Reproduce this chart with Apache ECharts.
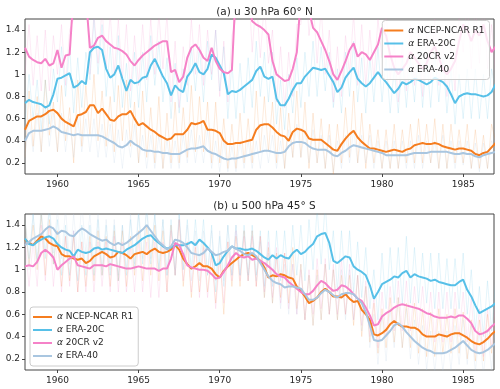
<!DOCTYPE html>
<html>
<head>
<meta charset="utf-8">
<script src="https://cdn.jsdelivr.net/npm/echarts@6.0.0/dist/echarts.min.js"></script>
<style>
  html, body { margin: 0; padding: 0; background: #fff; }
  #chart { width: 500px; height: 389px; }
</style>
</head>
<body>
<div id="chart"></div>
<script>
// quarterly samples, 1958.0 .. 1987.0 (4 per year)
const startYear = 1958;
const yearTicks = [1960, 1965, 1970, 1975, 1980, 1985];
const valueTicks = [0.2, 0.4, 0.6, 0.8, 1, 1.2, 1.4];
const names = ['NCEP-NCAR R1', 'ERA-20C', '20CR v2', 'ERA-40'];
const colors = ['#f57d1f', '#57c0e8', '#f582c8', '#a9c6e0'];

// (a) u 30 hPa 60N -- smoothed
const ncepA = [
  0.50,0.58,0.60,0.62, 0.62,0.64,0.67,0.68, 0.65,0.60,0.57,0.55, 0.53,0.63,0.64,0.66,
  0.72,0.72,0.65,0.69, 0.64,0.59,0.58,0.62, 0.64,0.64,0.67,0.60, 0.54,0.56,0.53,0.50,
  0.48,0.45,0.43,0.41, 0.42,0.46,0.46,0.46, 0.50,0.56,0.55,0.56, 0.58,0.50,0.50,0.49,
  0.47,0.40,0.37,0.37, 0.38,0.38,0.39,0.40, 0.41,0.50,0.54,0.55, 0.55,0.52,0.48,0.45,
  0.44,0.40,0.48,0.51, 0.50,0.48,0.42,0.41, 0.41,0.41,0.38,0.35, 0.32,0.31,0.37,0.42,
  0.46,0.49,0.43,0.39, 0.36,0.33,0.33,0.32, 0.31,0.30,0.31,0.32, 0.31,0.30,0.32,0.33,
  0.36,0.37,0.38,0.37, 0.37,0.38,0.37,0.35, 0.34,0.33,0.32,0.33, 0.33,0.32,0.31,0.28,
  0.27,0.29,0.30,0.34, 0.38];
const era20cA = [
  0.74,0.77,0.75,0.74, 0.73,0.70,0.72,0.82, 0.96,0.97,0.99,1.01, 0.88,0.90,0.94,0.91,
  1.20,1.24,1.25,1.22, 1.05,0.97,1.00,1.08, 0.96,0.85,0.95,0.92, 0.93,0.97,0.98,1.08,
  1.14,1.06,0.98,0.92, 0.81,0.90,0.86,0.84, 0.98,1.03,1.10,1.02, 1.00,1.05,1.18,1.15,
  1.08,1.01,0.82,0.85, 0.84,0.86,0.89,0.92, 0.95,1.03,1.07,0.98, 0.96,0.98,0.78,0.72,
  0.72,0.78,0.86,0.92, 0.92,0.98,1.02,1.06, 1.05,1.04,1.05,0.99, 0.93,0.84,0.88,0.97,
  1.02,1.06,0.96,0.92, 0.89,0.92,0.97,1.02, 0.97,0.93,0.88,0.83, 0.87,0.93,0.91,0.93,
  0.96,0.95,0.93,0.91, 0.93,0.97,0.95,0.93, 0.89,0.82,0.74,0.80, 0.82,0.83,0.82,0.82,
  0.81,0.80,0.81,0.84, 0.91];
const cr20A = [
  1.24,1.16,1.13,1.11, 1.10,1.14,1.08,1.10, 1.22,1.06,1.17,1.18, 1.75,1.90,1.80,1.70,
  1.24,1.26,1.33,1.35, 1.30,1.27,1.24,1.23, 1.21,1.18,1.12,1.08, 1.13,1.17,1.20,1.23,
  1.26,1.28,1.30,1.30, 1.02,1.04,0.93,0.98, 1.15,1.24,1.27,1.22, 1.15,1.12,1.24,1.12,
  1.05,1.02,1.01,1.04, 1.80,1.90,1.85,1.70, 1.48,1.45,1.43,1.40, 1.36,1.12,1.00,0.97,
  0.94,0.95,1.05,1.20, 1.70,1.80,1.58,1.42, 1.38,1.30,1.22,1.12, 1.00,0.95,1.03,1.12,
  1.22,1.28,1.16,1.20, 1.18,1.13,1.20,1.27, 1.42,1.35,1.18,1.06, 1.00,1.05,1.10,1.20,
  1.15,1.10,1.05,1.10, 1.20,1.25,1.15,1.05, 1.00,1.05,1.12,1.30, 1.45,1.40,1.30,1.40,
  1.35,1.45,1.30,1.20, 1.25];
const era40A = [
  0.40,0.47,0.49,0.49, 0.49,0.50,0.51,0.53, 0.51,0.48,0.47,0.46, 0.45,0.46,0.45,0.45,
  0.45,0.45,0.45,0.44, 0.42,0.40,0.38,0.35, 0.34,0.36,0.40,0.37, 0.35,0.32,0.31,0.31,
  0.30,0.30,0.29,0.29, 0.28,0.28,0.28,0.30, 0.32,0.33,0.33,0.34, 0.35,0.31,0.29,0.28,
  0.26,0.24,0.23,0.24, 0.24,0.25,0.26,0.27, 0.28,0.29,0.30,0.31, 0.31,0.30,0.29,0.29,
  0.30,0.35,0.38,0.39, 0.39,0.38,0.35,0.33, 0.32,0.32,0.32,0.30, 0.27,0.26,0.29,0.31,
  0.34,0.36,0.35,0.34, 0.33,0.32,0.31,0.30, 0.29,0.27,0.27,0.27, 0.27,0.27,0.27,0.28,
  0.29,0.29,0.29,0.29, 0.30,0.30,0.30,0.30, 0.30,0.29,0.28,0.28, 0.29,0.28,0.28,0.26,
  0.25,0.27,0.28,0.29, 0.30];

// (a) raw values
const ncepARaw = [
  0.25,0.85,0.35,0.80, 0.30,0.95,0.45,0.75, 0.30,0.90,0.40,0.70, 0.20,0.95,0.35,0.90,
  0.45,1.00,0.40,0.85, 0.35,0.80,0.30,0.90, 0.40,0.95,0.35,0.75, 0.20,0.85,0.25,0.70,
  0.20,0.80,0.15,0.65, 0.20,0.75,0.20,0.70, 0.25,0.90,0.30,0.80, 0.30,0.75,0.20,0.75,
  0.20,0.60,0.15,0.55, 0.15,0.65,0.20,0.60, 0.20,0.85,0.30,0.80, 0.30,0.75,0.20,0.70,
  0.15,0.65,0.25,0.85, 0.25,0.75,0.15,0.65, 0.20,0.60,0.15,0.55, 0.10,0.55,0.20,0.70,
  0.25,0.85,0.20,0.65, 0.15,0.55,0.20,0.50, 0.15,0.50,0.15,0.55, 0.15,0.50,0.20,0.55,
  0.20,0.60,0.20,0.55, 0.20,0.60,0.15,0.55, 0.15,0.55,0.20,0.50, 0.20,0.55,0.15,0.50,
  0.15,0.45,0.15,0.55, 0.40];
const era20cARaw = [
  0.55,1.00,0.60,0.95, 0.50,0.95,0.55,1.05, 0.75,1.25,0.80,1.25, 0.65,1.15,0.70,1.20,
  0.95,1.50,1.00,1.45, 0.80,1.25,0.75,1.35, 0.70,1.10,0.70,1.20, 0.70,1.20,0.75,1.35,
  0.90,1.30,0.75,1.15, 0.60,1.10,0.65,1.05, 0.75,1.25,0.85,1.25, 0.75,1.30,0.95,1.40,
  0.85,1.25,0.60,1.10, 0.60,1.10,0.65,1.15, 0.70,1.30,0.80,1.20, 0.75,1.20,0.55,0.95,
  0.50,1.00,0.65,1.15, 0.70,1.20,0.80,1.30, 0.80,1.25,0.85,1.20, 0.70,1.05,0.65,1.20,
  0.80,1.30,0.75,1.15, 0.65,1.15,0.75,1.25, 0.75,1.15,0.65,1.05, 0.65,1.15,0.70,1.15,
  0.75,1.20,0.70,1.15, 0.70,1.20,0.75,1.15, 0.65,1.05,0.55,1.00, 0.60,1.05,0.60,1.05,
  0.60,1.00,0.60,1.05, 0.85];
const cr20ARaw = [
  1.00,1.45,0.90,1.35, 0.85,1.40,0.85,1.35, 1.00,1.45,0.90,1.40, 1.50,2.00,1.60,1.90,
  1.00,1.55,1.10,1.60, 1.05,1.55,1.00,1.50, 0.95,1.45,0.85,1.35, 0.90,1.45,0.95,1.50,
  1.00,1.55,1.05,1.55, 0.75,1.30,0.70,1.25, 0.90,1.50,1.00,1.45, 0.90,1.40,1.00,1.40,
  0.80,1.30,0.75,1.35, 1.50,2.00,1.55,1.90, 1.20,1.70,1.15,1.65, 1.10,1.40,0.75,1.25,
  0.70,1.20,0.80,1.45, 1.45,2.00,1.35,1.70, 1.10,1.60,1.00,1.40, 0.75,1.25,0.80,1.35,
  1.00,1.55,0.90,1.45, 0.90,1.40,0.95,1.50, 1.15,1.60,0.95,1.30, 0.75,1.30,0.85,1.45,
  0.90,1.40,0.80,1.35, 0.95,1.50,0.90,1.30, 0.80,1.30,0.85,1.55, 1.20,1.70,1.05,1.65,
  1.10,1.70,1.05,1.45, 1.00];
const era40ARaw = [
  0.25,0.60,0.30,0.65, 0.30,0.70,0.35,0.65, 0.30,0.65,0.30,0.60, 0.25,0.60,0.30,0.60,
  0.30,0.60,0.25,0.55, 0.25,0.55,0.20,0.50, 0.15,0.50,0.25,0.55, 0.20,0.45,0.15,0.45,
  0.15,0.45,0.15,0.40, 0.15,0.40,0.15,0.45, 0.20,0.50,0.20,0.45, 0.20,0.50,0.15,0.40,
  0.12,0.40,0.12,0.35, 0.12,0.40,0.15,0.40, 0.15,0.40,0.15,0.45, 0.20,0.45,0.15,0.40,
  0.15,0.50,0.25,0.55, 0.25,0.50,0.20,0.50, 0.20,0.45,0.15,0.45, 0.12,0.40,0.15,0.45,
  0.20,0.50,0.20,0.45, 0.20,0.45,0.15,0.40, 0.15,0.40,0.15,0.40, 0.15,0.40,0.15,0.40,
  0.15,0.45,0.15,0.40, 0.20,0.40,0.15,0.45, 0.15,0.40,0.15,0.40, 0.18,0.40,0.15,0.38,
  0.12,0.38,0.15,0.40, 0.30];

// (b) u 500 hPa 45S -- smoothed
const ncepB = [
  1.27,1.24,1.22,1.26, 1.30,1.28,1.24,1.22, 1.21,1.14,1.12,1.12, 1.10,1.09,1.10,1.06,
  1.08,1.12,1.14,1.16, 1.14,1.11,1.12,1.16, 1.15,1.13,1.10,1.14, 1.15,1.16,1.14,1.17,
  1.19,1.16,1.15,1.16, 1.18,1.22,1.18,1.10, 1.05,1.01,1.03,1.06, 1.03,1.03,1.01,0.96,
  0.93,0.99,1.03,1.06, 1.09,1.12,1.14,1.15, 1.13,1.11,1.08,1.02, 0.93,0.95,0.94,0.96,
  0.95,0.93,0.92,0.85, 0.81,0.76,0.70,0.72, 0.75,0.80,0.83,0.80, 0.76,0.76,0.75,0.78,
  0.74,0.71,0.72,0.64, 0.60,0.55,0.42,0.41, 0.43,0.46,0.51,0.54, 0.51,0.49,0.49,0.48,
  0.48,0.46,0.42,0.40, 0.40,0.40,0.42,0.41, 0.40,0.42,0.43,0.43, 0.41,0.39,0.36,0.34,
  0.33,0.35,0.38,0.42, 0.45];
const era20cB = [
  1.28,1.23,1.22,1.25, 1.27,1.29,1.30,1.28, 1.23,1.20,1.18,1.17, 1.12,1.18,1.16,1.15,
  1.16,1.19,1.20,1.18, 1.19,1.18,1.17,1.16, 1.15,1.18,1.20,1.22, 1.25,1.28,1.30,1.31,
  1.27,1.24,1.21,1.19, 1.20,1.22,1.22,1.22, 1.23,1.25,1.22,1.27, 1.24,1.20,1.15,1.04,
  1.06,1.12,1.17,1.21, 1.19,1.19,1.18,1.18, 1.19,1.17,1.14,1.11, 1.09,1.13,1.10,1.13,
  1.11,1.10,1.15,1.18, 1.14,1.16,1.20,1.23, 1.30,1.32,1.33,1.24, 1.08,1.06,1.09,1.12,
  1.11,1.03,1.00,0.98, 0.95,0.86,0.74,0.80, 0.87,0.89,0.91,0.94, 0.93,0.97,0.99,0.93,
  0.96,0.94,0.93,0.92, 0.90,0.91,0.89,0.88, 0.87,0.86,0.86,0.89, 0.91,0.82,0.76,0.68,
  0.61,0.63,0.65,0.67, 0.70];
const cr20B = [
  1.03,1.04,1.03,1.07, 1.15,1.18,1.15,1.11, 1.00,1.04,1.07,1.10, 1.12,1.04,1.03,1.02,
  1.01,1.04,1.04,1.04, 1.03,1.05,1.04,1.03, 1.02,1.01,1.01,1.02, 1.03,1.02,1.01,1.01,
  1.01,0.99,1.01,1.01, 1.10,1.24,1.22,1.14, 1.04,1.02,1.01,1.00, 1.00,0.99,0.96,0.92,
  0.93,0.98,1.04,1.11, 1.15,1.12,1.11,1.12, 1.09,1.10,1.08,1.06, 1.03,1.00,0.96,0.94,
  0.93,0.89,0.86,0.83, 0.80,0.78,0.78,0.81, 0.86,0.90,0.88,0.84, 0.81,0.82,0.86,0.85,
  0.82,0.78,0.74,0.72, 0.66,0.59,0.50,0.51, 0.58,0.61,0.63,0.66, 0.68,0.69,0.68,0.67,
  0.66,0.65,0.63,0.61, 0.60,0.58,0.57,0.57, 0.57,0.58,0.57,0.59, 0.59,0.56,0.52,0.45,
  0.42,0.43,0.45,0.49, 0.52];
const era40B = [
  1.22,1.25,1.28,1.30, 1.32,1.36,1.39,1.37, 1.32,1.35,1.34,1.31, 1.30,1.34,1.37,1.35,
  1.32,1.30,1.28,1.26, 1.27,1.24,1.22,1.24, 1.22,1.24,1.27,1.30, 1.33,1.36,1.40,1.35,
  1.30,1.25,1.22,1.18, 1.21,1.27,1.26,1.24, 1.20,1.15,1.14,1.13, 1.15,1.19,1.16,1.13,
  1.14,1.16,1.17,1.21, 1.19,1.17,1.14,1.13, 1.15,1.12,1.06,1.00, 0.94,0.90,0.88,0.87,
  0.84,0.85,0.85,0.84, 0.83,0.78,0.73,0.73, 0.75,0.79,0.82,0.80, 0.77,0.75,0.78,0.79,
  0.79,0.78,0.74,0.70, 0.62,0.50,0.37,0.36, 0.37,0.41,0.45,0.50, 0.52,0.49,0.44,0.40,
  0.36,0.33,0.30,0.28, 0.27,0.25,0.25,0.25, 0.26,0.28,0.30,0.33, 0.36,0.32,0.28,0.26,
  0.25,0.26,0.28,0.31, 0.34];

// (b) raw values
const ncepBRaw = [
  1.45,1.05,1.40,1.00, 1.50,0.95,1.45,1.05, 1.35,0.85,1.30,0.90, 1.30,0.80,1.25,0.85,
  1.30,0.90,1.35,0.95, 1.30,0.85,1.35,0.90, 1.35,0.85,1.30,0.95, 1.35,0.90,1.40,0.95,
  1.40,0.90,1.35,0.80, 1.40,0.95,1.45,0.85, 1.25,0.75,1.20,0.80, 1.25,0.80,1.15,0.70,
  1.15,0.60,1.25,0.85, 1.30,0.85,1.35,0.90, 1.35,0.85,1.30,0.75, 1.20,0.70,1.15,0.75,
  1.15,0.70,1.20,0.65, 1.05,0.55,0.95,0.50, 1.00,0.55,1.05,0.60, 1.00,0.55,0.95,0.60,
  0.95,0.50,0.95,0.40, 0.85,0.35,0.70,0.25, 0.65,0.30,0.75,0.35, 0.75,0.30,0.70,0.30,
  0.70,0.25,0.65,0.22, 0.62,0.22,0.65,0.25, 0.60,0.25,0.65,0.25, 0.62,0.20,0.55,0.18,
  0.55,0.18,0.60,0.25, 0.60];
const era20cBRaw = [
  1.45,1.10,1.50,1.05, 1.50,1.10,1.55,1.05, 1.45,0.95,1.40,0.95, 1.35,0.90,1.40,0.95,
  1.40,0.95,1.45,0.95, 1.40,0.95,1.40,0.90, 1.40,0.95,1.45,1.00, 1.50,1.05,1.55,1.05,
  1.50,1.00,1.45,0.95, 1.45,0.95,1.50,1.00, 1.45,1.00,1.45,1.05, 1.45,0.95,1.40,0.80,
  1.30,0.85,1.40,0.95, 1.40,0.95,1.40,0.95, 1.40,0.95,1.35,0.85, 1.35,0.85,1.35,0.90,
  1.35,0.85,1.40,0.95, 1.40,0.90,1.45,1.00, 1.55,1.05,1.60,1.00, 1.35,0.80,1.35,0.85,
  1.35,0.80,1.25,0.75, 1.20,0.65,1.00,0.55, 1.15,0.65,1.20,0.70, 1.20,0.70,1.30,0.70,
  1.20,0.70,1.15,0.70, 1.15,0.65,1.15,0.65, 1.10,0.65,1.10,0.65, 1.15,0.60,1.00,0.45,
  0.85,0.40,0.90,0.45, 0.90];
const cr20BRaw = [
  1.25,0.85,1.25,0.85, 1.40,0.90,1.40,0.85, 1.25,0.80,1.30,0.85, 1.35,0.80,1.25,0.80,
  1.25,0.80,1.25,0.85, 1.25,0.80,1.30,0.80, 1.25,0.80,1.20,0.80, 1.25,0.80,1.25,0.75,
  1.25,0.75,1.25,0.80, 1.35,0.95,1.45,0.90, 1.25,0.80,1.25,0.75, 1.20,0.75,1.15,0.65,
  1.10,0.70,1.25,0.90, 1.35,0.90,1.30,0.90, 1.30,0.85,1.30,0.80, 1.25,0.75,1.20,0.70,
  1.15,0.65,1.05,0.60, 1.00,0.55,1.00,0.60, 1.10,0.65,1.10,0.60, 1.05,0.60,1.10,0.60,
  1.05,0.55,0.95,0.50, 0.90,0.40,0.75,0.30, 0.80,0.40,0.85,0.45, 0.90,0.45,0.90,0.45,
  0.85,0.45,0.85,0.40, 0.80,0.35,0.80,0.35, 0.80,0.35,0.80,0.40, 0.80,0.35,0.75,0.25,
  0.65,0.22,0.65,0.30, 0.70];
const era40BRaw = [
  1.45,1.00,1.50,1.10, 1.55,1.15,1.60,1.15, 1.55,1.10,1.55,1.05, 1.50,1.10,1.60,1.15,
  1.50,1.05,1.50,1.00, 1.45,1.00,1.45,0.95, 1.40,1.00,1.50,1.05, 1.55,1.10,1.60,1.10,
  1.50,1.00,1.45,0.95, 1.40,1.00,1.50,1.00, 1.40,0.90,1.35,0.90, 1.35,0.95,1.35,0.90,
  1.35,0.90,1.40,0.95, 1.40,0.95,1.35,0.90, 1.35,0.90,1.25,0.75, 1.15,0.70,1.10,0.65,
  1.05,0.60,1.05,0.60, 1.05,0.55,0.95,0.50, 0.95,0.55,1.05,0.60, 1.00,0.55,1.00,0.55,
  1.00,0.55,0.95,0.45, 0.85,0.30,0.60,0.15, 0.60,0.18,0.65,0.30, 0.75,0.30,0.65,0.20,
  0.55,0.15,0.50,0.10, 0.45,0.08,0.45,0.08, 0.45,0.10,0.50,0.15, 0.55,0.15,0.50,0.08,
  0.45,0.05,0.45,0.10, 0.55];

const font = 'DejaVu Sans';
const ink = '#262626';

function pairs(values) {
  return values.map((v, i) => [startYear + i * 0.25, v]);
}

function thick(idx, values, panel) {
  return {
    name: names[idx], type: 'line', xAxisIndex: panel, yAxisIndex: panel,
    data: pairs(values), showSymbol: false, symbol: 'none', silent: true,
    color: colors[idx], lineStyle: { color: colors[idx], width: 2 }, z: 3
  };
}

function faint(idx, values, panel) {
  return {
    name: names[idx] + ' raw', type: 'line', xAxisIndex: panel, yAxisIndex: panel,
    data: pairs(values), showSymbol: false, symbol: 'none', silent: true,
    color: colors[idx], lineStyle: { color: colors[idx], width: 0.8, opacity: 0.2 }, z: 2
  };
}

function xAxis(panel) {
  return {
    type: 'value', gridIndex: panel, min: 1958, max: 1986.9,
    splitLine: { show: false },
    axisLine: { show: false },
    axisTick: { show: true, length: 3, customValues: yearTicks, lineStyle: { color: '#444' } },
    axisLabel: { customValues: yearTicks, margin: 6, color: ink, fontSize: 9, fontFamily: font,
      formatter: v => String(Math.round(v)) }
  };
}

function yAxis(panel) {
  return {
    type: 'value', gridIndex: panel, min: 0.1, max: 1.5,
    splitLine: { show: false },
    axisLine: { show: false },
    axisTick: { show: true, length: 3, customValues: valueTicks, lineStyle: { color: '#444' } },
    axisLabel: { customValues: valueTicks, margin: 5, color: ink, fontSize: 9, fontFamily: font,
      formatter: v => String(+v.toFixed(1)) }
  };
}

const legendBase = {
  data: names, orient: 'vertical', icon: 'rect', itemWidth: 19, itemHeight: 2,
  itemGap: 0, backgroundColor: 'rgba(255,255,255,0.8)', borderColor: '#cccccc',
  borderWidth: 1, borderRadius: 3, selectedMode: false,
  formatter: n => '{a|α} ' + n,
  textStyle: { color: ink, fontSize: 9, fontFamily: font, lineHeight: 13,
    rich: { a: { fontStyle: 'italic', fontSize: 9, fontFamily: font, lineHeight: 13 } } }
};

const chart = echarts.init(document.getElementById('chart'), null, { renderer: 'canvas' });
chart.setOption({
  animation: false,
  backgroundColor: '#fff',
  title: [
    { text: '(a) u 30 hPa 60° N', left: 259.5, top: 2, textAlign: 'center',
      textStyle: { fontSize: 10.5, fontWeight: 'normal', color: ink, fontFamily: font } },
    { text: '(b) u 500 hPa 45° S', left: 259.5, top: 196, textAlign: 'center',
      textStyle: { fontSize: 10.5, fontWeight: 'normal', color: ink, fontFamily: font } }
  ],
  legend: [
    Object.assign({}, legendBase, { right: 10.5, top: 20.5, padding: [3.5, 5, 3.5, 2] }),
    Object.assign({}, legendBase, { left: 30, top: 307, padding: [3.5, 5, 3.5, 3] })
  ],
  grid: [
    { left: 25, top: 19, width: 469, height: 155, show: true, borderColor: '#444', borderWidth: 1,
      backgroundColor: 'transparent', containLabel: false, outerBoundsMode: 'none' },
    { left: 25, top: 214, width: 469, height: 156, show: true, borderColor: '#444', borderWidth: 1,
      backgroundColor: 'transparent', containLabel: false, outerBoundsMode: 'none' }
  ],
  xAxis: [xAxis(0), xAxis(1)],
  yAxis: [yAxis(0), yAxis(1)],
  series: [
    faint(0, ncepARaw, 0), faint(1, era20cARaw, 0), faint(2, cr20ARaw, 0), faint(3, era40ARaw, 0),
    faint(0, ncepBRaw, 1), faint(1, era20cBRaw, 1), faint(2, cr20BRaw, 1), faint(3, era40BRaw, 1),
    thick(0, ncepA, 0), thick(1, era20cA, 0), thick(2, cr20A, 0), thick(3, era40A, 0),
    thick(0, ncepB, 1), thick(1, era20cB, 1), thick(2, cr20B, 1), thick(3, era40B, 1)
  ]
});
</script>
</body>
</html>
